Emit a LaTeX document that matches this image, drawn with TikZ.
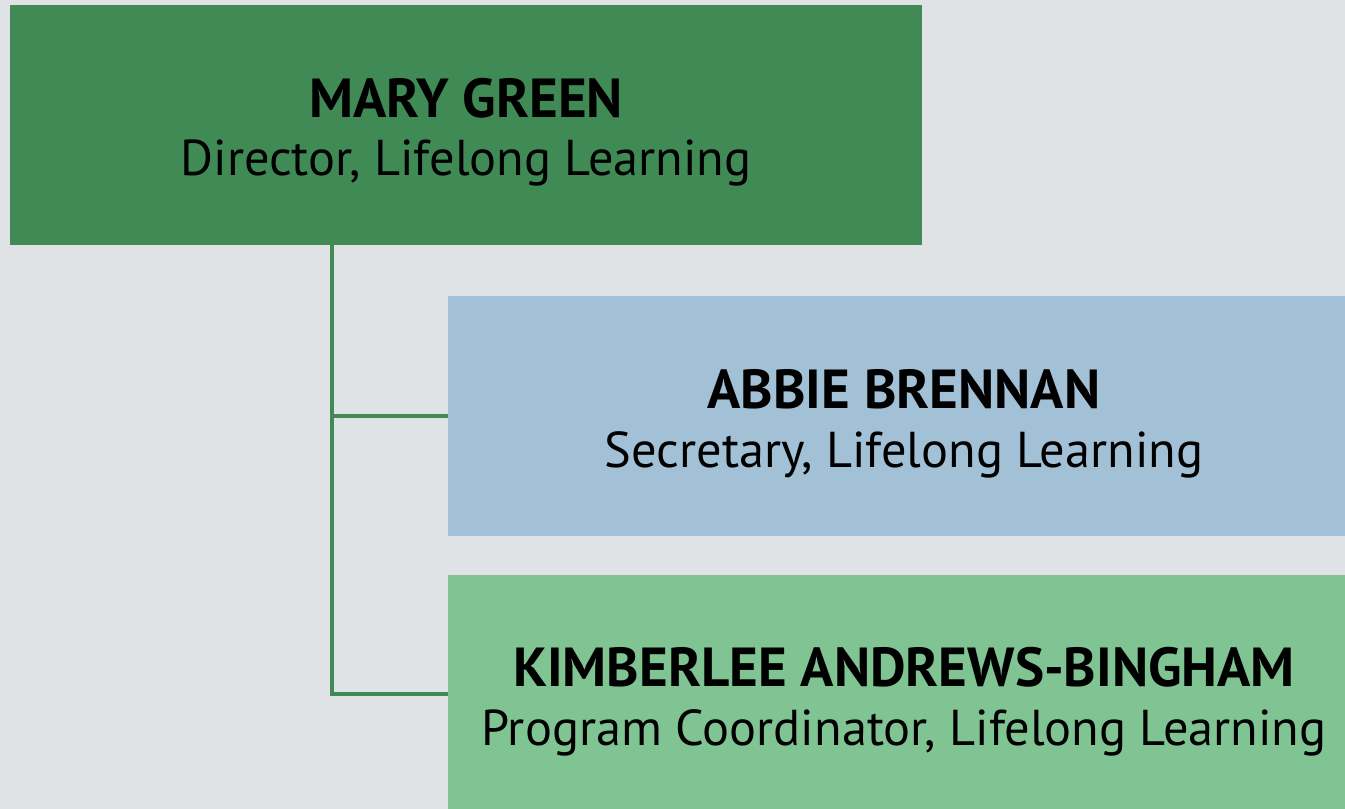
\documentclass[tikz,border=0pt]{standalone}
\usepackage{fontspec}
\setmainfont{PT Sans}
\definecolor{bgc}{HTML}{DFE3E6}
\definecolor{dkg}{HTML}{3F8A55}
\definecolor{lblue}{HTML}{A2C1D6}
\definecolor{lgreen}{HTML}{7FC492}
\tikzset{
  boxnode/.style={draw=none, inner sep=0pt, outer sep=0pt, rectangle},
  nametext/.style={anchor=base, inner sep=0pt, font=\fontsize{27.5}{30}\selectfont\bfseries},
  roletext/.style={anchor=base, inner sep=0pt, font=\fontsize{25.2}{29}\selectfont},
  conn/.style={draw=dkg, line width=2pt}
}
\begin{document}
\begin{tikzpicture}[x=0.5pt,y=-0.5pt]
\fill[bgc] (0,0) rectangle (1345,809);
\useasboundingbox (0,0) rectangle (1345,809);
\node[boxnode, fill=dkg, minimum width=456pt, minimum height=120pt, anchor=north west] (top) at (10,5) {};
\node[boxnode, fill=lblue, minimum width=455pt, minimum height=120pt, anchor=north west] (sec) at (448,296) {};
\node[boxnode, fill=lgreen, minimum width=455pt, minimum height=120pt, anchor=north west] (coord) at (448,575) {};
\node[nametext] (topn) at (466,117) {MARY GREEN};
\node[roletext] (topr) at (466,175) {Director, Lifelong Learning};
\node[nametext] (secn) at (904,408) {ABBIE BRENNAN};
\node[roletext] (secr) at (904,467) {Secretary, Lifelong Learning};
\node[nametext] (coordn) at (904,686) {KIMBERLEE ANDREWS-BINGHAM};
\node[roletext] (coordr) at (904,745) {Program Coordinator, Lifelong Learning};
\coordinate (trunk) at (332,245);
\draw[conn] (trunk) |- (sec.west |- 0,416);
\draw[conn] (trunk) |- (coord.west |- 0,694);
\end{tikzpicture}
\end{document}
